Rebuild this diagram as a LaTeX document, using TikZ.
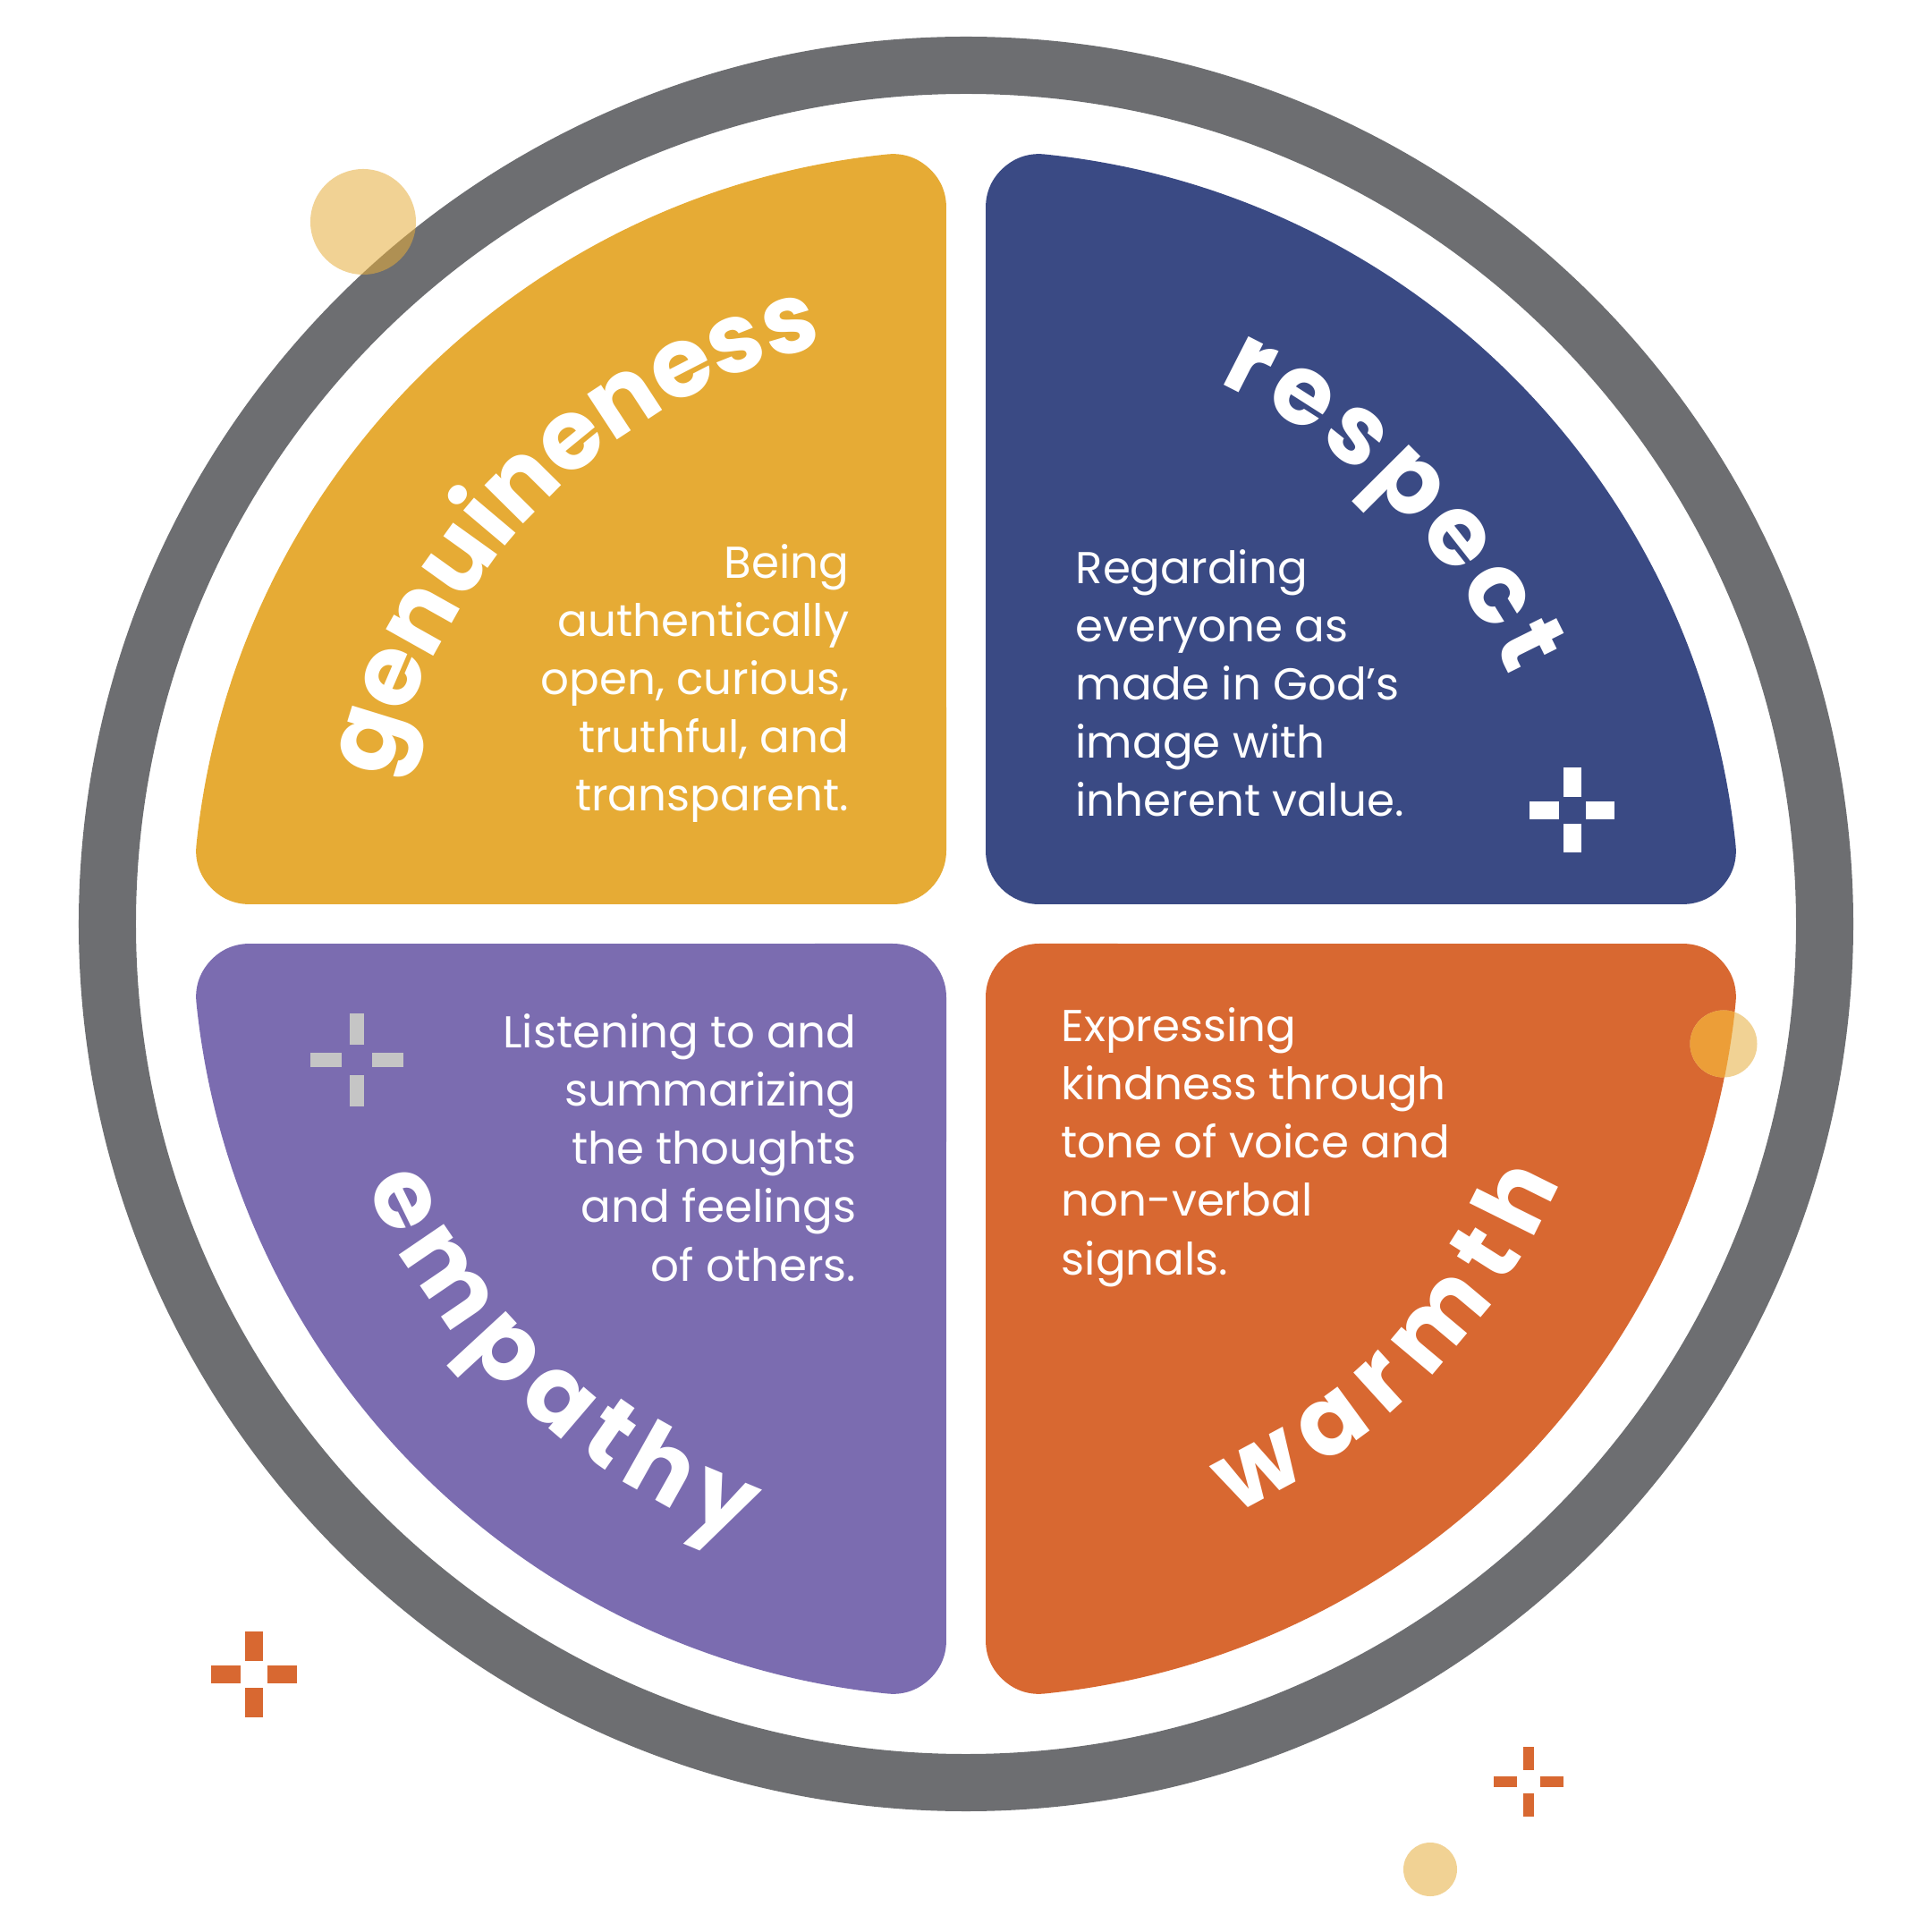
\documentclass[tikz,border=0pt]{standalone}
\usepackage{fontspec}
\setmainfont{Poppins}
\usepackage{tikz}
\usetikzlibrary{
  positioning,
  calc,
  decorations.text
}
\definecolor{ringgray}{RGB}{109,110,113}
\definecolor{genuinegold}{RGB}{230,171,53}
\definecolor{respectnavy}{RGB}{58,74,132}
\definecolor{empathyviolet}{RGB}{123,108,176}
\definecolor{warmthorange}{RGB}{216,104,49}
\definecolor{plusgray}{RGB}{197,197,197}
\definecolor{dotyellow}{RGB}{230,173,60}
\definecolor{dotpale}{RGB}{241,210,148}
\definecolor{dotorange}{RGB}{236,158,56}

\newcommand{\plusmark}[5]{%
  \begin{scope}[shift={#1}]
    \fill[#5] (-#2,#3) rectangle (#2,#4);
    \fill[#5] (-#2,-#3) rectangle (#2,-#4);
    \fill[#5] (#3,-#2) rectangle (#4,#2);
    \fill[#5] (-#3,-#2) rectangle (-#4,#2);
  \end{scope}}

\tikzset{
  quarter/.style={line width=1.2cm, line join=round, draw=#1, fill=#1},
  bodytext/.style={text=white, inner sep=0pt, font=\fontsize{14.2}{18.5}\selectfont},
  titlearc/.style={decorate, decoration={text along path, text align=fit to path,
      text color=white, text={|\fontsize{31}{31}\selectfont\bfseries|#1}}}
}

\begin{document}
\begin{tikzpicture}
  \useasboundingbox (-10.80,-11.27) rectangle (10.80,10.33);
  \draw[ringgray, line width=0.64cm] (0,0) circle (9.60);
  \foreach \col/\rot in {respectnavy/0, genuinegold/90, empathyviolet/180, warmthorange/270}
    \path[quarter=\col, rotate=\rot] (0.82,0.82) -- (84.15:8.05)
      arc[start angle=84.15, end angle=5.85, radius=8.05] -- cycle;

  \fill[dotyellow, opacity=0.55] (-6.74,7.85) circle (0.59);
  \fill[dotpale] (8.47,-1.34) circle (0.375);
  \begin{scope}
    \clip (0,0) circle (8.65);
    \fill[dotorange] (8.47,-1.34) circle (0.375);
  \end{scope}
  \fill[dotyellow, opacity=0.55] (5.19,-10.57) circle (0.30);

  \plusmark{(6.775,1.27)}{0.10}{0.15}{0.475}{white}
  \plusmark{(-6.81,-1.52)}{0.08}{0.17}{0.52}{plusgray}
  \plusmark{(-7.96,-8.39)}{0.10}{0.15}{0.48}{warmthorange}
  \plusmark{(6.29,-9.59)}{0.06}{0.13}{0.39}{warmthorange}

  \path[titlearc=genuineness] (166:6.66) arc[start angle=166, end angle=104, radius=6.66];
  \path[titlearc=respect] (65:6.68) arc[start angle=65, end angle=24.5, radius=6.68];
  \path[titlearc=empathy] (203.5:7.32) arc[start angle=203.5, end angle=250, radius=7.32];
  \path[titlearc=warmth] (294.5:7.24) arc[start angle=294.5, end angle=336.5, radius=7.24];

  \node[bodytext, anchor=base east, align=right] (genuinetext) at (-1.30,1.26)
    {Being\\authentically\\open, curious,\\truthful, and\\transparent.};
  \node[bodytext, anchor=base west, align=left] (respecttext) at (1.22,1.20)
    {Regarding\\everyone as\\made in God’s\\image with\\inherent value.};
  \node[bodytext, anchor=base east, align=right] (empathytext) at (-1.22,-3.99)
    {Listening to and\\summarizing\\the thoughts\\and feelings\\of others.};
  \node[bodytext, anchor=base west, align=left] (warmthtext) at (1.06,-3.92)
    {Expressing\\kindness through\\tone of voice and\\non-verbal\\signals.};
\end{tikzpicture}
\end{document}
